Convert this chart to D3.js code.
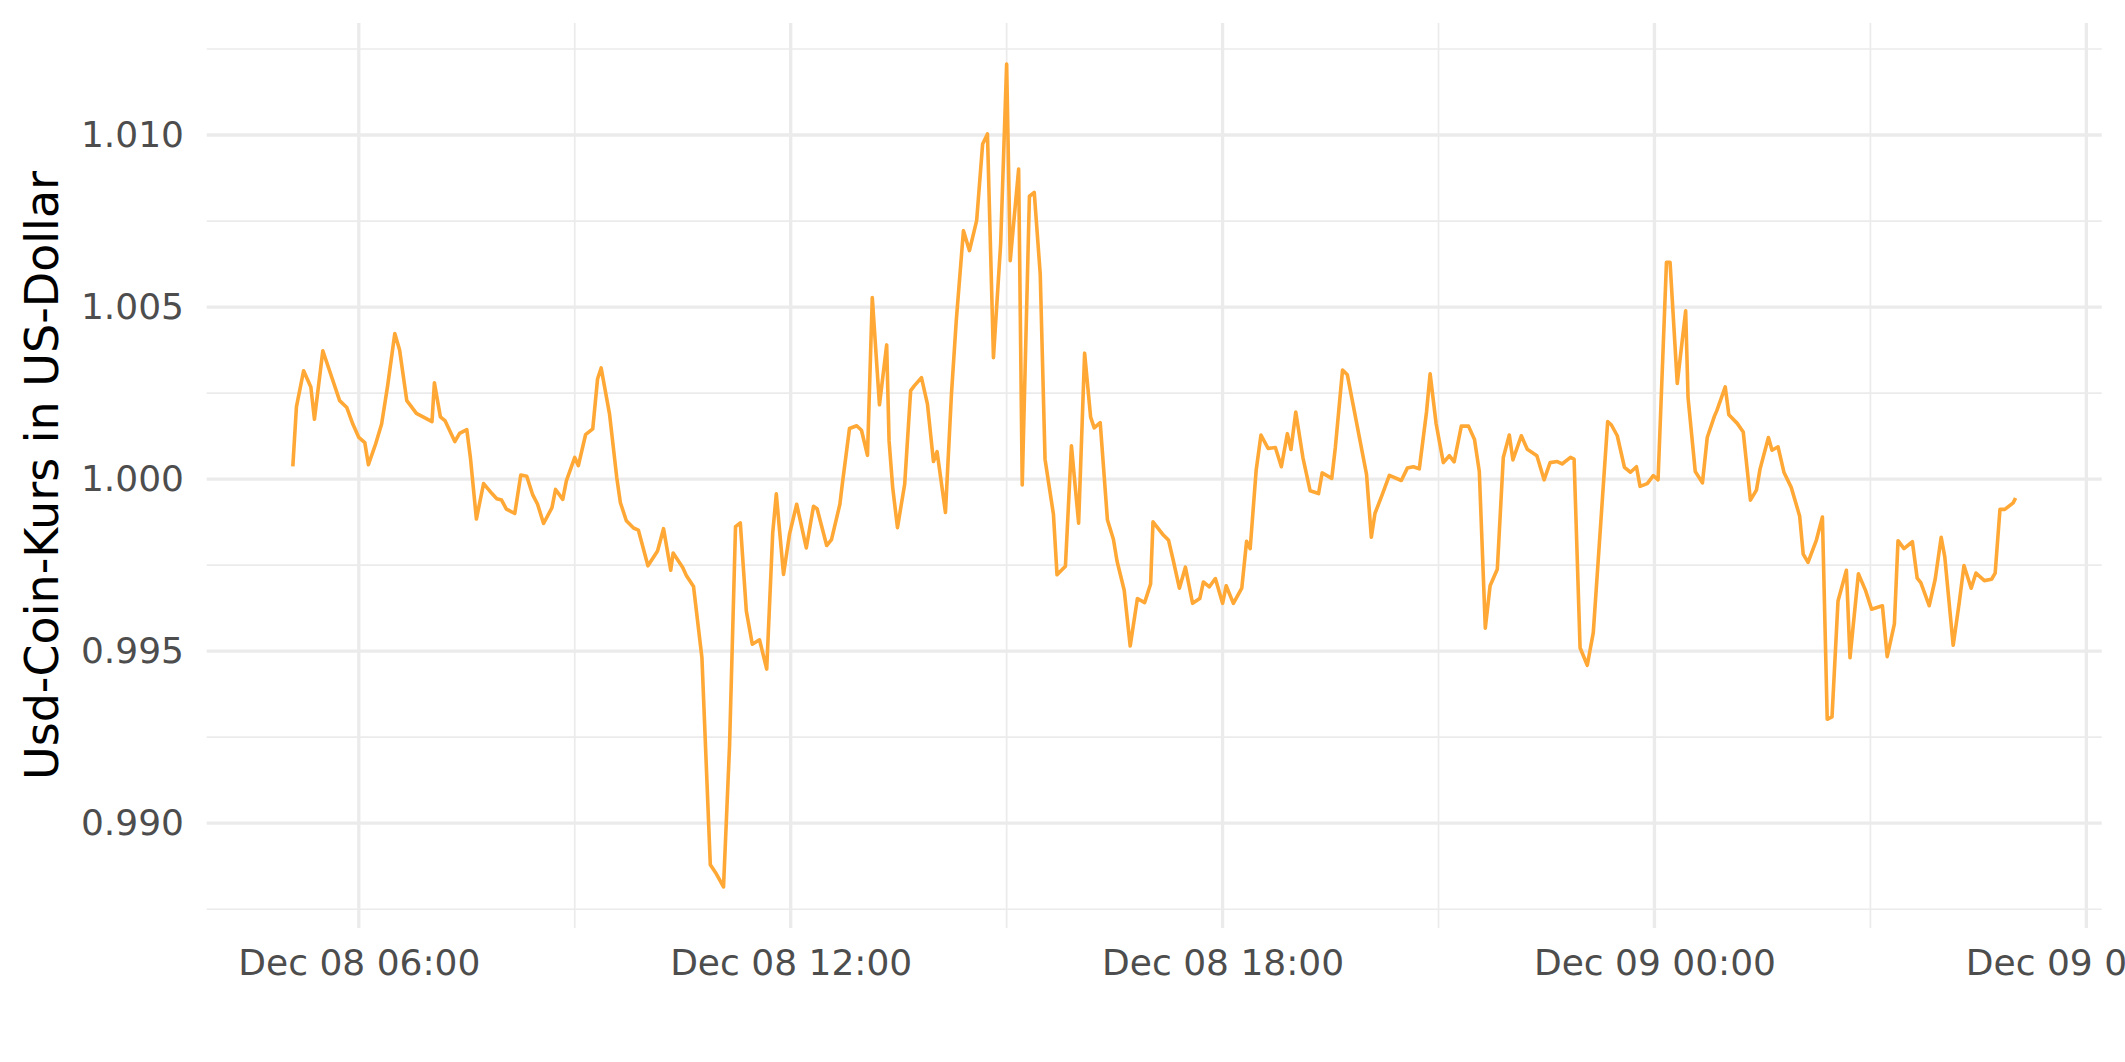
<!DOCTYPE html>
<html>
<head>
<meta charset="utf-8">
<script src="https://cdn.jsdelivr.net/npm/d3@7"></script>
<style>
  html, body { margin: 0; padding: 0; background: #ffffff; }
  svg { display: block; }
</style>
</head>
<body>
<svg id="chart" width="2125" height="1062"></svg>
<script>
// ---- data ----
const times = [
"08 05:05","08 05:08","08 05:14","08 05:20","08 05:23","08 05:30","08 05:44","08 05:50","08 05:55","08 06:00",
"08 06:05","08 06:08","08 06:14","08 06:19","08 06:24","08 06:30","08 06:34","08 06:40","08 06:48","08 07:01",
"08 07:03","08 07:08","08 07:12","08 07:20","08 07:24","08 07:30","08 07:33","08 07:38","08 07:44","08 07:51",
"08 07:55","08 07:59","08 08:03","08 08:10","08 08:15","08 08:20","08 08:25","08 08:29","08 08:34","08 08:41",
"08 08:44","08 08:50","08 08:53","08 09:00","08 09:03","08 09:09","08 09:15","08 09:19","08 09:22","08 09:29",
"08 09:35","08 09:38","08 09:43","08 09:49","08 09:53","08 10:01","08 10:09","08 10:14","08 10:20","08 10:22",
"08 10:30","08 10:33","08 10:39","08 10:46","08 10:53","08 10:58","08 11:04","08 11:09","08 11:14","08 11:18",
"08 11:23","08 11:28","08 11:34","08 11:40","08 11:45","08 11:48","08 11:54","08 11:59","08 12:05","08 12:13",
"08 12:19","08 12:22","08 12:30","08 12:34","08 12:41","08 12:43","08 12:49","08 12:55","08 12:59","08 13:04",
"08 13:08","08 13:14","08 13:20","08 13:22","08 13:25","08 13:29","08 13:35","08 13:40","08 13:43","08 13:49",
"08 13:54","08 13:59","08 14:02","08 14:09","08 14:14","08 14:18","08 14:24","08 14:29","08 14:35","08 14:40",
"08 14:44","08 14:49","08 14:55","08 15:00","08 15:03","08 15:10","08 15:13","08 15:19","08 15:23","08 15:28",
"08 15:32","08 15:39","08 15:42","08 15:49","08 15:54","08 16:00","08 16:05","08 16:10","08 16:13","08 16:18",
"08 16:24","08 16:29","08 16:32","08 16:38","08 16:43","08 16:49","08 16:55","08 17:00","08 17:02","08 17:10",
"08 17:15","08 17:19","08 17:24","08 17:29","08 17:35","08 17:41","08 17:44","08 17:49","08 17:54","08 18:00",
"08 18:03","08 18:09","08 18:16","08 18:20","08 18:23","08 18:28","08 18:32","08 18:38","08 18:44","08 18:49",
"08 18:54","08 18:57","08 19:01","08 19:07","08 19:13","08 19:20","08 19:23","08 19:31","08 19:34","08 19:40",
"08 19:44","08 19:49","08 19:54","08 20:00","08 20:04","08 20:07","08 20:13","08 20:19","08 20:29","08 20:34",
"08 20:39","08 20:44","08 20:50","08 20:53","08 20:58","08 21:04","08 21:09","08 21:13","08 21:19","08 21:25",
"08 21:30","08 21:34","08 21:39","08 21:43","08 21:49","08 21:54","08 21:59","08 22:02","08 22:09","08 22:14",
"08 22:22","08 22:28","08 22:33","08 22:39","08 22:43","08 22:50","08 22:53","08 22:58","08 23:04","08 23:09",
"08 23:21","08 23:24","08 23:29","08 23:35","08 23:40","08 23:45","08 23:48","08 23:54","08 23:59","09 00:03",
"09 00:10","09 00:13","09 00:19","09 00:26","09 00:28","09 00:34","09 00:40","09 00:44","09 00:50","09 00:52",
"09 00:59","09 01:02","09 01:09","09 01:14","09 01:20","09 01:25","09 01:28","09 01:35","09 01:38","09 01:43",
"09 01:48","09 01:54","09 02:01","09 02:04","09 02:08","09 02:15","09 02:20","09 02:24","09 02:28","09 02:33",
"09 02:40","09 02:43","09 02:50","09 02:56","09 03:01","09 03:10","09 03:14","09 03:20","09 03:23","09 03:28",
"09 03:35","09 03:39","09 03:42","09 03:49","09 03:54","09 03:59","09 04:02","09 04:09","09 04:14","09 04:18",
"09 04:24","09 04:28","09 04:35","09 04:41","09 04:44","09 04:48","09 04:52","09 04:59","09 05:01"
];
const prices = [
1.00037,1.00210,1.00315,1.00268,1.00174,1.00373,1.00228,1.00208,1.00160,1.00121,
1.00106,1.00042,1.00102,1.00160,1.00271,1.00423,1.00375,1.00228,1.00191,1.00167,
1.00280,1.00181,1.00169,1.00109,1.00133,1.00144,1.00063,0.99884,0.99987,0.99958,
0.99943,0.99939,0.99913,0.99900,1.00012,1.00008,0.99954,0.99927,0.99871,0.99917,
0.99970,0.99941,0.99995,1.00063,1.00039,1.00129,1.00146,1.00291,1.00323,1.00189,
1.00005,0.99932,0.99879,0.99858,0.99852,0.99748,0.99791,0.99856,0.99735,0.99785,
0.99743,0.99720,0.99688,0.99481,0.98879,0.98853,0.98815,0.99222,0.99862,0.99873,
0.99617,0.99520,0.99533,0.99448,0.99843,0.99957,0.99723,0.99840,0.99927,0.99800,
0.99921,0.99914,0.99807,0.99824,0.99927,0.99985,1.00147,1.00155,1.00142,1.00069,
1.00528,1.00216,1.00390,1.00111,0.99976,0.99859,0.99985,1.00257,1.00271,1.00295,
1.00218,1.00051,1.00080,0.99903,1.00247,1.00460,1.00722,1.00664,1.00751,1.00974,
1.01003,1.00353,1.00683,1.01206,1.00635,1.00901,0.99983,1.00822,1.00833,1.00596,
1.00058,0.99898,0.99722,0.99747,1.00097,0.99872,1.00366,1.00180,1.00149,1.00164,
0.99882,0.99825,0.99762,0.99677,0.99515,0.99653,0.99641,0.99695,0.99876,0.99840,
0.99822,0.99762,0.99683,0.99744,0.99639,0.99653,0.99701,0.99687,0.99711,0.99639,
0.99690,0.99639,0.99683,0.99819,0.99798,1.00026,1.00128,1.00089,1.00092,1.00036,
1.00132,1.00086,1.00195,1.00062,0.99966,0.99958,1.00018,1.00002,1.00092,1.00317,
1.00303,1.00213,1.00122,1.00014,0.99831,0.99900,0.99954,1.00011,0.99996,1.00032,
1.00036,1.00030,1.00195,1.00306,1.00161,1.00048,1.00068,1.00050,1.00154,1.00154,
1.00115,1.00022,0.99567,0.99690,0.99738,1.00063,1.00128,1.00056,1.00126,1.00087,
1.00068,0.99998,1.00048,1.00051,1.00044,1.00063,1.00058,0.99510,0.99459,0.99554,
1.00167,1.00158,1.00126,1.00034,1.00020,1.00036,0.99979,0.99987,1.00010,0.99998,
1.00630,1.00630,1.00278,1.00489,1.00237,1.00022,0.99989,1.00121,1.00183,1.00199,
1.00268,1.00187,1.00162,1.00137,0.99939,0.99968,1.00029,1.00121,1.00084,1.00094,
1.00019,0.99976,0.99893,0.99782,0.99758,0.99823,0.99890,0.99302,0.99309,0.99646,
0.99735,0.99481,0.99725,0.99676,0.99622,0.99632,0.99484,0.99579,0.99821,0.99798,
0.99818,0.99712,0.99699,0.99632,0.99709,0.99831,0.99774,0.99517,0.99640,0.99749,
0.99683,0.99727,0.99705,0.99709,0.99727,0.99912,0.99912,0.99931,0.99945
];
const yMajorTicks = [0.990, 0.995, 1.000, 1.005, 1.010];
const yMinorTicks = [0.9875, 0.9925, 0.9975, 1.0025, 1.0075, 1.0125];
const xMajorTicks = ["08 06:00", "08 12:00", "08 18:00", "09 00:00", "09 06:00"];
const xMinorTicks = ["08 09:00", "08 15:00", "08 21:00", "09 03:00"];
const yTitle = "Usd-Coin-Kurs in US-Dollar";

// ---- setup ----
const parse = s => d3.utcParse("%Y-%m-%d %H:%M")("2022-12-" + s);
const data = times.map((t, i) => ({ t: parse(t), v: prices[i] }));

const W = 2125, H = 1062;
const panel = { left: 206.7, right: 2101.7, top: 23, bottom: 928 };

const svg = d3.select("#chart");
svg.append("rect").attr("width", W).attr("height", H).attr("fill", "#ffffff");

// ggplot-like 5% expansion
const tExt = d3.extent(data, d => d.t);
const tPad = (tExt[1] - tExt[0]) * 0.05;
const x = d3.scaleUtc()
  .domain([new Date(+tExt[0] - tPad), new Date(+tExt[1] + tPad)])
  .range([panel.left, panel.right]);

const vExt = d3.extent(data, d => d.v);
const vPad = (vExt[1] - vExt[0]) * 0.05;
const y = d3.scaleLinear()
  .domain([vExt[0] - vPad, vExt[1] + vPad])
  .range([panel.bottom, panel.top]);

const gridColor = "#EBEBEB";
const grid = svg.append("g");

// minor gridlines
grid.selectAll(".ymin").data(yMinorTicks).join("line")
  .attr("x1", panel.left).attr("x2", panel.right)
  .attr("y1", d => y(d)).attr("y2", d => y(d))
  .attr("stroke", gridColor).attr("stroke-width", 1.7);
grid.selectAll(".xmin").data(xMinorTicks.map(parse)).join("line")
  .attr("y1", panel.top).attr("y2", panel.bottom)
  .attr("x1", d => x(d)).attr("x2", d => x(d))
  .attr("stroke", gridColor).attr("stroke-width", 1.7);
// major gridlines
grid.append("g").selectAll("line").data(yMajorTicks).join("line")
  .attr("x1", panel.left).attr("x2", panel.right)
  .attr("y1", d => y(d)).attr("y2", d => y(d))
  .attr("stroke", gridColor).attr("stroke-width", 3.3);
grid.append("g").selectAll("line").data(xMajorTicks.map(parse)).join("line")
  .attr("y1", panel.top).attr("y2", panel.bottom)
  .attr("x1", d => x(d)).attr("x2", d => x(d))
  .attr("stroke", gridColor).attr("stroke-width", 3.3);

// line
const line = d3.line().x(d => x(d.t)).y(d => y(d.v));
svg.append("path")
  .datum(data)
  .attr("d", line)
  .attr("fill", "none")
  .attr("stroke", "#FFA836")
  .attr("stroke-width", 3.6)
  .attr("stroke-linejoin", "round")
  .attr("stroke-linecap", "butt");

// axes
const fontFam = "'DejaVu Sans', sans-serif";
const yAxis = svg.append("g")
  .attr("transform", `translate(${panel.left},0)`)
  .call(d3.axisLeft(y).tickValues(yMajorTicks).tickFormat(d3.format(".3f")).tickSize(0).tickPadding(22.7));
yAxis.select(".domain").remove();
yAxis.selectAll("text").attr("font-family", fontFam).attr("font-size", 36).attr("fill", "#4D4D4D");

const xAxis = svg.append("g")
  .attr("transform", `translate(0,${panel.bottom})`)
  .call(d3.axisBottom(x).tickValues(xMajorTicks.map(parse)).tickFormat(d3.utcFormat("%b %d %H:%M")).tickSize(0).tickPadding(21));
xAxis.select(".domain").remove();
xAxis.selectAll("text").attr("font-family", fontFam).attr("font-size", 36).attr("fill", "#4D4D4D");

// y title
svg.append("text")
  .attr("transform", `translate(58,${(panel.top + panel.bottom) / 2}) rotate(-90)`)
  .attr("text-anchor", "middle")
  .attr("font-family", fontFam)
  .attr("font-size", 46)
  .attr("fill", "#000000")
  .text(yTitle);
</script>
</body>
</html>
